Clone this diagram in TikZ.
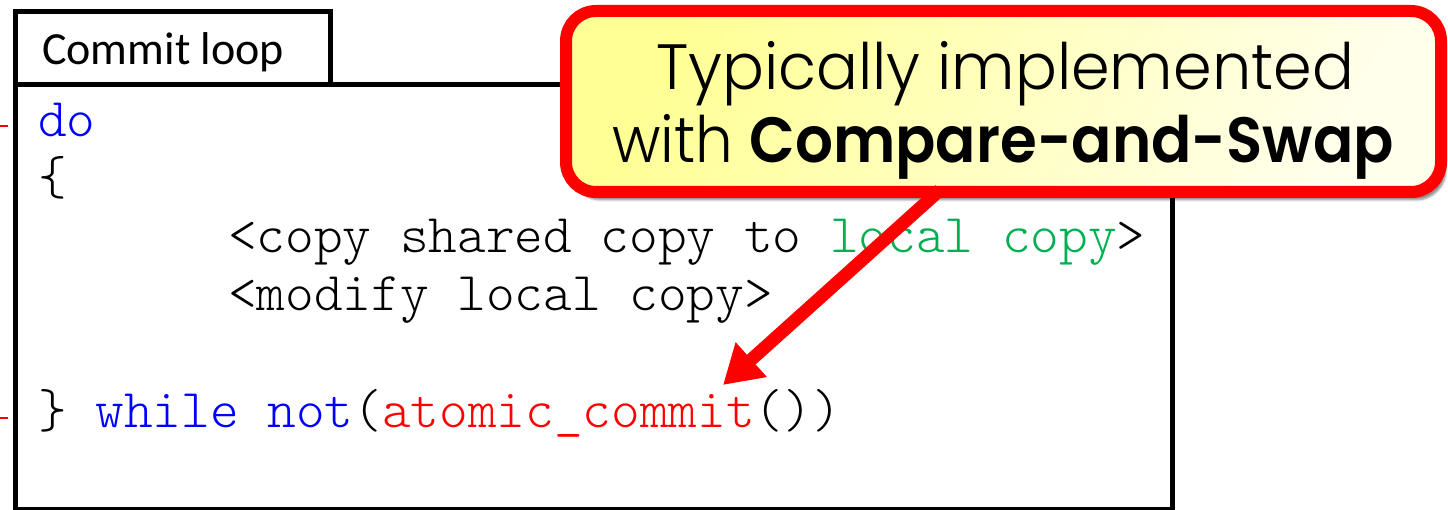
\documentclass[tikz,border=0pt]{standalone}
\usepackage{fontspec}
\usetikzlibrary{arrows.meta,shadows.blur}
\setmainfont{Carlito}
\setmonofont{lmmonolt10-regular.otf}
\newfontfamily\calloutfont{Poppins}[UprightFont={* Light}, BoldFont={* SemiBold}]
\definecolor{kwblue}{RGB}{0,0,255}
\definecolor{fnred}{RGB}{255,0,0}
\definecolor{locgreen}{RGB}{0,176,80}
\definecolor{noteyellow}{RGB}{255,255,150}
\definecolor{notelight}{RGB}{255,255,235}
\tikzset{
  frame/.style={draw=black, line width=5pt},
  code/.style={anchor=base west, inner sep=0pt, font=\fontsize{54.6}{57}\selectfont\ttfamily},
  tabtitle/.style={anchor=base west, inner sep=0pt, font=\fontsize{46}{55}\selectfont},
  callout/.style={draw=fnred, line width=12pt, rounded corners=30pt,
    left color=noteyellow, right color=notelight, shading angle=60,
    blur shadow={shadow xshift=5pt, shadow yshift=-8pt, shadow blur steps=6, shadow opacity=45}},
  callouttext/.style={anchor=base, inner sep=0pt, font=\fontsize{64}{71}\selectfont\calloutfont},
  pointer/.style={draw=fnred, line width=13pt, -{Triangle[length=38pt,width=44pt]}},
  tick/.style={draw=fnred, line width=1.5pt}
}
\begin{document}
\begin{tikzpicture}[x=1pt,y=-1pt]
  \useasboundingbox (0,0) rectangle (1448,510);
  % code frame and its tab
  \draw[frame] (15,85) rectangle (1172,509);
  \draw[frame] (15,12) rectangle (330,85);
  \node[tabtitle] (title) at (42,65) {Commit loop};
  % margin ticks
  \draw[tick] (0,126) -- (8,126);
  \draw[tick] (0,418) -- (8,418);
  % code
  \node[code] (l1) at (38,137) {\textcolor{kwblue}{do}};
  \node[code] (l2) at (38,195) {\{};
  \node[code] (l3) at (228,253) {<copy shared copy to \textcolor{locgreen}{local copy}>};
  \node[code] (l4) at (228,311) {<modify local copy>};
  \node[code] (l6) at (38,427) {\} \textcolor{kwblue}{while not}(\textcolor{fnred}{atomic\_commit}())};
  % callout
  \path[callout] (566,11) rectangle (1441,192);
  \node[callouttext, xscale=0.97] (c1) at (1005,90) {Typically implemented};
  \node[callouttext, xscale=0.93] (c2) at (1003,163) {with \textbf{Compare-and-Swap}};
  \coordinate (tail) at (940,190);
  \coordinate (tip) at (723,385);
  \draw[pointer] (tail) -- (tip);
\end{tikzpicture}
\end{document}
